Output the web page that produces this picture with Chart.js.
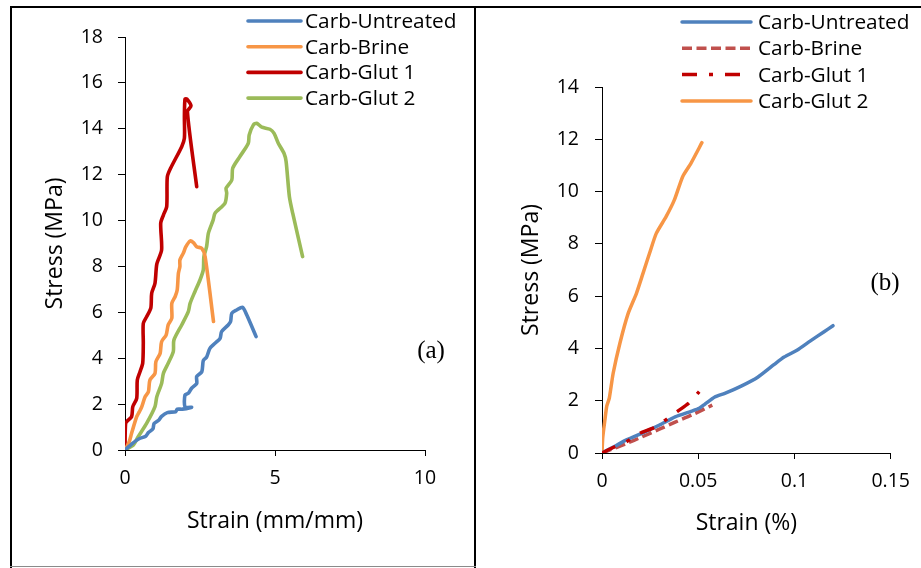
<!DOCTYPE html>
<html>
<head>
<meta charset="utf-8">
<script src="https://cdn.jsdelivr.net/npm/chart.js@4.4.0/dist/chart.umd.min.js"></script>
<style>
  html, body { margin: 0; padding: 0; background: #fff; }
  #wrap { position: relative; width: 921px; height: 568px; overflow: hidden; }
  canvas { position: absolute; top: 0; }
  .rule { position: absolute; background: #000; }
  .tag { position: absolute; font-family: 'Liberation Serif', serif; font-size: 25px; line-height: 1; color: #000; transform: translate(-50%, -50%); }
</style>
</head>
<body>
<div id="wrap">
  <canvas id="chartA" width="475" height="568" style="left:0"></canvas>
  <canvas id="chartB" width="446" height="568" style="left:475px"></canvas>
  <div class="rule" style="left:10px;top:6px;width:911px;height:2px"></div>
  <div class="rule" style="left:10px;top:6px;width:2px;height:562px"></div>
  <div class="rule" style="left:474px;top:6px;width:2px;height:562px"></div>
  <div class="rule" style="left:10px;top:566px;width:466px;height:1px;background:#8a8a8a"></div>
  <div class="tag" style="left:431px;top:349px">(a)</div>
  <div class="tag" style="left:885px;top:281px">(b)</div>
</div>
<script>
/* ---- panel (a): stress vs strain (mm/mm) ---- */
const seriesNames = ['Carb-Untreated', 'Carb-Brine', 'Carb-Glut 1', 'Carb-Glut 2'];

const aUntreatedX = [0, 0.24, 0.47, 0.69, 0.78, 0.93, 0.97, 1.13, 1.22, 1.41, 1.69, 1.74, 1.91, 2.22, 2.0, 2.0, 2.11, 2.22, 2.39, 2.39, 2.56, 2.61, 2.72, 2.83, 3.0, 3.17, 3.22, 3.44, 3.52, 3.56, 3.72, 3.92, 4.06, 4.37];
const aUntreatedY = [0, 0.28, 0.49, 0.6, 0.76, 0.92, 1.15, 1.31, 1.47, 1.63, 1.67, 1.78, 1.78, 1.86, 1.88, 2.4, 2.47, 2.69, 2.9, 3.2, 3.41, 3.9, 4.05, 4.43, 4.65, 4.87, 5.16, 5.45, 5.6, 5.96, 6.1, 6.22, 5.88, 4.94];

const aBrineX = [0, 0.14, 0.22, 0.39, 0.48, 0.56, 0.67, 0.78, 0.83, 1.0, 1.03, 1.17, 1.22, 1.37, 1.44, 1.56, 1.56, 1.67, 1.74, 1.78, 1.83, 1.83, 1.94, 2.03, 2.17, 2.28, 2.39, 2.56, 2.67, 2.95];
const aBrineY = [0, 0.36, 0.73, 1.45, 1.67, 1.89, 2.32, 2.54, 3.05, 3.34, 3.85, 4.21, 4.72, 5.01, 5.45, 5.74, 6.39, 6.68, 6.97, 7.7, 8.0, 8.28, 8.57, 8.86, 9.11, 9.04, 8.86, 8.79, 8.43, 5.6];

const aGlut1X = [0, 0.02, 0.22, 0.26, 0.39, 0.41, 0.5, 0.59, 0.61, 0.61, 0.72, 0.86, 0.89, 1.0, 1.06, 1.22, 1.19, 1.28, 1.39, 1.41, 1.52, 1.89, 1.98, 1.98, 2.0, 2.06, 2.2, 2.08, 2.39];
const aGlut1Y = [0, 1.16, 1.45, 1.89, 2.25, 3.05, 3.41, 3.78, 4.65, 5.52, 5.81, 6.18, 6.83, 7.27, 8.1, 8.72, 9.88, 10.24, 10.6, 11.9, 12.28, 13.22, 13.59, 14.53, 15.3, 15.3, 15.0, 14.75, 11.48];

const aGlut2X = [0, 0.28, 0.44, 0.72, 1.0, 1.06, 1.22, 1.28, 1.44, 1.61, 1.63, 1.89, 2.11, 2.17, 2.33, 2.5, 2.61, 2.63, 2.72, 2.78, 2.94, 3.0, 3.33, 3.39, 3.37, 3.56, 3.59, 3.83, 4.11, 4.14, 4.28, 4.39, 4.56, 4.83, 4.97, 5.11, 5.3, 5.37, 5.48, 5.59, 5.92];
const aGlut2Y = [0, 0.22, 0.58, 1.16, 1.89, 2.32, 2.9, 3.34, 3.78, 4.29, 4.79, 5.45, 6.03, 6.39, 6.9, 7.41, 7.85, 8.43, 8.86, 9.45, 10.03, 10.32, 10.75, 11.19, 11.41, 11.77, 12.28, 12.79, 13.37, 13.73, 14.17, 14.24, 14.07, 13.98, 13.8, 13.37, 12.93, 12.57, 11.04, 10.32, 8.43];

const aXTicks = [0, 5, 10];
const aYTicks = [0, 2, 4, 6, 8, 10, 12, 14, 16, 18];

/* ---- panel (b): stress vs strain (%) ---- */
const bUntreatedX = [0, 0.0072, 0.0127, 0.0209, 0.0299, 0.038, 0.0466, 0.0505, 0.0535, 0.0586, 0.0638, 0.0723, 0.0809, 0.0895, 0.0946, 0.1015, 0.1083, 0.1152, 0.12];
const bUntreatedY = [0, 0.28, 0.5, 0.76, 1.07, 1.38, 1.6, 1.71, 1.87, 2.14, 2.28, 2.56, 2.9, 3.39, 3.67, 3.94, 4.29, 4.63, 4.87];

const bBrineX = [0, 0.0123, 0.0209, 0.0295, 0.038, 0.0466, 0.0573];
const bBrineY = [0, 0.35, 0.62, 0.9, 1.18, 1.45, 1.83];

const bGlut1X = [0, 0.0064, 0.0127, 0.0196, 0.0273, 0.033, 0.039, 0.045, 0.0505];
const bGlut1Y = [0, 0.23, 0.43, 0.75, 0.98, 1.26, 1.58, 1.9, 2.35];

const bGlut2X = [0, 0.0004, 0.0015, 0.0025, 0.0038, 0.0058, 0.0093, 0.0136, 0.0179, 0.0213, 0.0247, 0.0282, 0.0333, 0.0376, 0.0419, 0.0462, 0.0519];
const bGlut2Y = [0, 0.6, 1.26, 1.8, 2.1, 3.05, 4.2, 5.34, 6.11, 6.87, 7.64, 8.4, 9.04, 9.68, 10.57, 11.08, 11.87];

const bXTicks = [0, 0.05, 0.1, 0.15];
const bXTickLabels = ['0', '0.05', '0.1', '0.15'];
const bYTicks = [0, 2, 4, 6, 8, 10, 12, 14];

Chart.defaults.font.family = "'Open Sans', sans-serif";
Chart.defaults.color = '#000';

function pts(xs, ys) {
    return xs.map((x, i) => ({ x: x, y: ys[i] }));
}

// legend drawn beside the plot, Excel style (line sample + label)
const sideLegend = {
    id: 'sideLegend',
    afterDraw(chart, args, opts) {
        const ctx = chart.ctx;
        ctx.save();
        chart.data.datasets.forEach((ds, i) => {
            const y = opts.top + i * opts.rowGap;
            ctx.beginPath();
            ctx.strokeStyle = ds.borderColor;
            ctx.lineWidth = opts.lineWidth;
            ctx.setLineDash(ds.borderDash || []);
            ctx.lineCap = ds.borderDash ? 'butt' : 'round';
            ctx.moveTo(opts.x, y);
            ctx.lineTo(opts.x + opts.len, y);
            ctx.stroke();
            ctx.setLineDash([]);
            ctx.fillStyle = '#000';
            ctx.font = opts.font;
            ctx.textBaseline = 'middle';
            ctx.textAlign = 'left';
            ctx.fillText(ds.label, opts.x + opts.len + opts.gap, y + 1);
        });
        ctx.restore();
    }
};

function axisOptions(cfg) {
    return {
        responsive: false,
        animation: false,
        events: [],
        layout: { padding: cfg.padding },
        elements: {
            point: { radius: 0 },
            line: { tension: cfg.tension, borderJoinStyle: 'round', borderCapStyle: 'round' }
        },
        plugins: {
            legend: { display: false },
            tooltip: { enabled: false },
            sideLegend: cfg.legend
        },
        scales: {
            x: {
                type: 'linear',
                min: cfg.xTicks[0],
                max: cfg.xTicks[cfg.xTicks.length - 1],
                afterBuildTicks: s => { s.ticks = cfg.xTicks.map(v => ({ value: v })); },
                afterFit: s => { s.height = cfg.xHeight; },
                ticks: {
                    font: { size: 19.5 },
                    padding: 11,
                    maxRotation: 0,
                    autoSkip: false,
                    callback: (v, i) => cfg.xLabels ? cfg.xLabels[i] : String(v)
                },
                grid: { drawOnChartArea: false, drawTicks: true, tickLength: 6, color: '#000' },
                border: { color: '#000', width: 1 },
                title: { display: true, text: cfg.xTitle, font: { size: 23 }, padding: { top: 0, bottom: cfg.xTitlePad } }
            },
            y: {
                type: 'linear',
                min: cfg.yTicks[0],
                max: cfg.yTicks[cfg.yTicks.length - 1],
                afterBuildTicks: s => { s.ticks = cfg.yTicks.map(v => ({ value: v })); },
                afterFit: s => { s.width = cfg.yWidth; },
                ticks: {
                    font: { size: 19.5 },
                    padding: cfg.yTickPad,
                    autoSkip: false,
                    callback: v => String(v)
                },
                grid: { drawOnChartArea: false, drawTicks: true, tickLength: 7, color: '#000' },
                border: { color: '#000', width: 1 },
                title: { display: true, text: 'Stress (MPa)', font: { size: 23 }, padding: { top: cfg.yTitlePad, bottom: 0 } }
            }
        }
    };
}

new Chart(document.getElementById('chartA'), {
    type: 'scatter',
    data: {
        datasets: [
            { label: seriesNames[0], data: pts(aUntreatedX, aUntreatedY), borderColor: '#4F81BD', borderWidth: 3.6, showLine: true },
            { label: seriesNames[1], data: pts(aBrineX, aBrineY), borderColor: '#F79646', borderWidth: 3.6, showLine: true },
            { label: seriesNames[2], data: pts(aGlut1X, aGlut1Y), borderColor: '#C00000', borderWidth: 3.6, showLine: true },
            { label: seriesNames[3], data: pts(aGlut2X, aGlut2Y), borderColor: '#9BBB59', borderWidth: 3.6, showLine: true }
        ]
    },
    options: axisOptions({
        padding: { left: 0, top: 37, right: 50, bottom: 0 },
        xTicks: aXTicks, yTicks: aYTicks,
        xHeight: 118, yWidth: 125,
        yTickPad: 15, xTitlePad: 33, yTitlePad: 42,
        tension: 0.25,
        xTitle: 'Strain (mm/mm)',
        legend: { x: 248, len: 53, gap: 4, top: 21, rowGap: 25.7, lineWidth: 3.6, font: "20.8px 'Open Sans'" }
    }),
    plugins: [sideLegend]
});

new Chart(document.getElementById('chartB'), {
    type: 'scatter',
    data: {
        datasets: [
            { label: seriesNames[0], data: pts(bUntreatedX, bUntreatedY), borderColor: '#4F81BD', borderWidth: 3.5, showLine: true, order: 1 },
            { label: seriesNames[1], data: pts(bBrineX, bBrineY), borderColor: '#C0504D', borderWidth: 3.5, borderDash: [10, 4.5], borderCapStyle: 'butt', showLine: true, order: 2 },
            { label: seriesNames[2], data: pts(bGlut1X, bGlut1Y), borderColor: '#C00000', borderWidth: 3.5, borderDash: [15, 12, 4, 12], borderCapStyle: 'butt', showLine: true, order: 0 },
            { label: seriesNames[3], data: pts(bGlut2X, bGlut2Y), borderColor: '#F79646', borderWidth: 3.5, showLine: true, order: 3 }
        ]
    },
    options: axisOptions({
        padding: { left: 0, top: 87, right: 28, bottom: 0 },
        xTicks: bXTicks, xLabels: bXTickLabels, yTicks: bYTicks,
        xHeight: 115, yWidth: 127,
        yTickPad: 16, xTitlePad: 31, yTitlePad: 43,
        tension: 0.2,
        xTitle: 'Strain (%)',
        legend: { x: 207, len: 69, gap: 7, top: 22, rowGap: 26.3, lineWidth: 3.5, font: "20.8px 'Open Sans'" }
    }),
    plugins: [sideLegend]
});
</script>
</body>
</html>
